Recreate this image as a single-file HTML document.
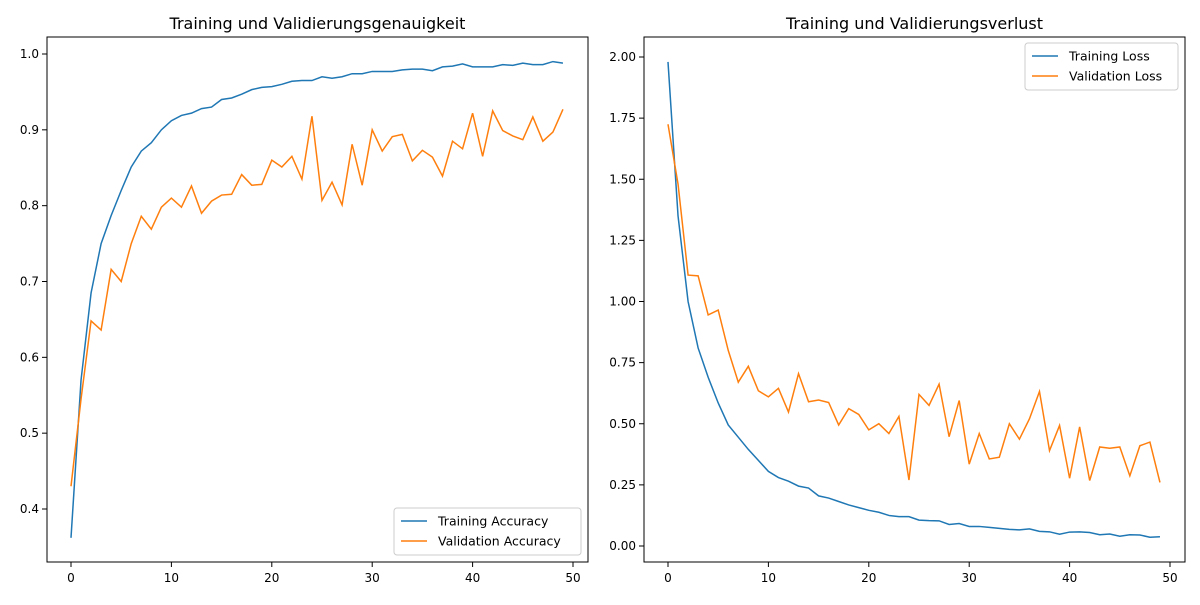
<!DOCTYPE html>
<html><head><meta charset="utf-8"><style>
body{margin:0;background:#fff}
svg text{font-family:"DejaVu Sans","Liberation Sans",sans-serif;fill:#000}
</style></head><body>
<svg id="c" width="1200" height="600" xmlns="http://www.w3.org/2000/svg"></svg>
<script>
const epochs=[...Array(50).keys()];
const trainAcc=[0.362,0.57,0.685,0.75,0.787,0.82,0.851,0.872,0.883,0.9,0.912,0.919,0.922,0.928,0.93,0.94,0.942,0.947,0.953,0.956,0.957,0.96,0.964,0.965,0.965,0.97,0.968,0.97,0.974,0.974,0.977,0.977,0.977,0.979,0.98,0.98,0.978,0.983,0.984,0.987,0.983,0.983,0.983,0.986,0.985,0.988,0.986,0.986,0.99,0.988];
const valAcc=[0.43,0.545,0.648,0.636,0.716,0.70,0.75,0.786,0.769,0.798,0.81,0.798,0.826,0.79,0.806,0.814,0.815,0.841,0.827,0.828,0.86,0.851,0.865,0.835,0.918,0.807,0.831,0.801,0.881,0.827,0.9,0.872,0.891,0.894,0.859,0.873,0.864,0.839,0.885,0.875,0.922,0.865,0.925,0.899,0.892,0.887,0.917,0.885,0.897,0.927];
const trainLoss=[1.98,1.35,1.0,0.81,0.69,0.585,0.495,0.445,0.395,0.35,0.305,0.28,0.265,0.245,0.237,0.205,0.196,0.182,0.168,0.157,0.146,0.138,0.125,0.12,0.12,0.106,0.104,0.103,0.088,0.092,0.08,0.08,0.076,0.072,0.068,0.066,0.07,0.06,0.058,0.048,0.057,0.058,0.055,0.046,0.049,0.04,0.046,0.045,0.036,0.038];
const valLoss=[1.725,1.48,1.108,1.105,0.945,0.965,0.8,0.67,0.735,0.635,0.61,0.645,0.548,0.705,0.59,0.597,0.587,0.495,0.562,0.538,0.475,0.5,0.46,0.53,0.27,0.62,0.575,0.662,0.447,0.595,0.335,0.46,0.356,0.363,0.5,0.437,0.52,0.632,0.39,0.493,0.277,0.487,0.268,0.405,0.4,0.405,0.287,0.41,0.425,0.26];
const xTicks=[0,10,20,30,40,50];
const accTicks=[0.4,0.5,0.6,0.7,0.8,0.9,1.0];
const lossTicks=[0,0.25,0.5,0.75,1.0,1.25,1.5,1.75,2.0];
const svg=document.getElementById('c');
const NS='http://www.w3.org/2000/svg';
function mk(tag,attrs,parent){const e=document.createElementNS(NS,tag);for(const k in attrs)e.setAttribute(k,attrs[k]);(parent||svg).appendChild(e);return e;}
function chart(cfg){
  const g=mk('g',{});
  
  
  const xs=v=>cfg.x0+(v-0)*(cfg.x50-cfg.x0)/50;
  const ys=v=>cfg.yA+(v-cfg.vA)*(cfg.yB-cfg.yA)/(cfg.vB-cfg.vA);
  const t=mk('text',{x:(cfg.L+cfg.R)/2,y:29,'text-anchor':'middle','font-size':16},g);t.textContent=cfg.title;
  
  
  xTicks.forEach(v=>{const x=xs(v);mk('line',{x1:x,x2:x,y1:cfg.B,y2:cfg.B+5,stroke:'#000'},g);
    const tx=mk('text',{x:x,y:cfg.B+20,'text-anchor':'middle','font-size':12},g);tx.textContent=v;
    
    });
  cfg.yt.forEach(v=>{const y=ys(v);mk('line',{x1:cfg.L-5,x2:cfg.L,y1:y,y2:y,stroke:'#000'},g);
    const tx=mk('text',{x:cfg.L-8,y:y+4,'text-anchor':'end','font-size':12},g);tx.textContent=v.toFixed(cfg.dec);
    
    });
  [[cfg.s1,'#1f77b4',cfg.n1],[cfg.s2,'#ff7f0e',cfg.n2]].forEach(([s,c,n])=>{
    const p=mk('polyline',{points:s.map((v,i)=>xs(epochs[i])+','+ys(v)).join(' '),fill:'none',stroke:c,'stroke-width':1.5},g);
    
    });
  mk('rect',{x:cfg.L,y:cfg.T,width:cfg.R-cfg.L,height:cfg.B-cfg.T,fill:'none',stroke:'#000','stroke-width':1},g);
  const lg=mk('g',{},g);
  
  
  mk('rect',{x:cfg.lx,y:cfg.ly,width:cfg.lw,height:47,rx:3,fill:'#fff','fill-opacity':0.8,stroke:'#ccc'},lg);
  [[cfg.l1,'#1f77b4'],[cfg.l2,'#ff7f0e']].forEach(([lab,c],i)=>{const yy=cfg.ly+13+i*20;
    mk('line',{x1:cfg.lx+7,x2:cfg.lx+33,y1:yy,y2:yy,stroke:c,'stroke-width':1.5},lg);
    const tx=mk('text',{x:cfg.lx+44,y:yy+4.5,'font-size':12.5},lg);tx.textContent=lab;
    
    });
}
chart({name:'accuracy-chart',title:'Training und Validierungsgenauigkeit',L:47,R:588,T:37,B:562,x0:71,x50:573,yA:54,vA:1.0,yB:509,vB:0.4,yt:accTicks,dec:1,s1:trainAcc,s2:valAcc,n1:'training-accuracy-line',n2:'validation-accuracy-line',lx:394,ly:508,lw:187,l1:'Training Accuracy',l2:'Validation Accuracy'});
chart({name:'loss-chart',title:'Training und Validierungsverlust',L:644,R:1185,T:37,B:562,x0:668,x50:1170,yA:57,vA:2.0,yB:546,vB:0,yt:lossTicks,dec:2,s1:trainLoss,s2:valLoss,n1:'training-loss-line',n2:'validation-loss-line',lx:1025,ly:43,lw:153,l1:'Training Loss',l2:'Validation Loss'});
</script>
</body></html>
